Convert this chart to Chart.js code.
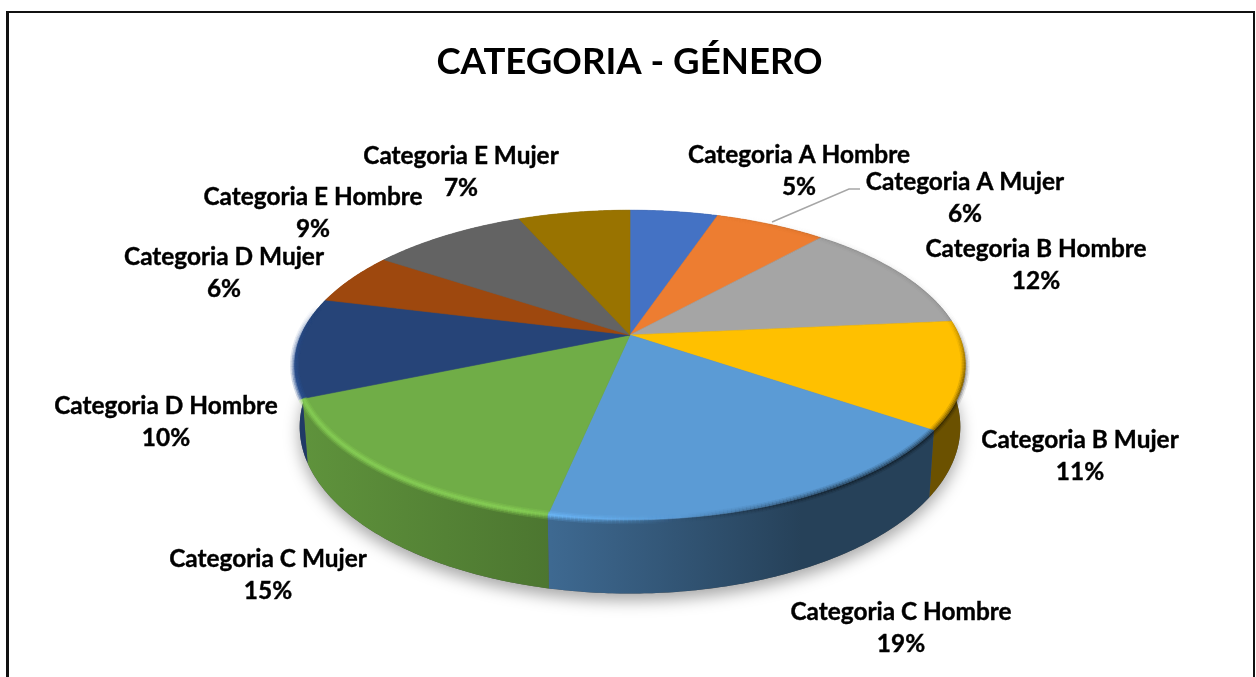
<!DOCTYPE html>
<html>
<head>
<meta charset="utf-8">
<script src="https://cdn.jsdelivr.net/npm/chart.js@4"></script>
<style>
    html, body { margin: 0; background: #fff; overflow: hidden; }
    #wrap { position: relative; width: 1256px; height: 677px; }
    #frame { position: absolute; left: 6px; top: 11px; width: 1244px; height: 700px; border: 2.5px solid #111; border-left-width: 3px; }
    #genderChart { position: absolute; left: 0; top: 0; }
</style>
</head>
<body>
<div id="wrap">
    <canvas id="genderChart" width="1256" height="677"></canvas>
    <div id="frame"></div>
</div>
<script>
const chartTitle = "CATEGORIA - GÉNERO";
const categories = [
    "Categoria A Hombre",
    "Categoria A Mujer",
    "Categoria B Hombre",
    "Categoria B Mujer",
    "Categoria C Hombre",
    "Categoria C Mujer",
    "Categoria D Hombre",
    "Categoria D Mujer",
    "Categoria E Hombre",
    "Categoria E Mujer",
];
// Unrounded shares estimated from the slice edges; the labels show them rounded
const percents = [5.1, 6.45, 11.95, 11.15, 18.6, 15.3, 10.4, 5.5, 9.05, 6.5];
const sliceColors = [
    "#4472C4", "#ED7D31", "#A5A5A5", "#FFC000", "#5B9BD5",
    "#70AD47", "#264478", "#9E480E", "#636363", "#997300",
];

// Label centres, same order as categories
const labelPlaces = [
    [799, 155], [965, 182], [1036, 249], [1080, 440], [901, 612],
    [268, 559], [166, 406], [224, 257], [313, 197], [461, 156],
];

// Perspective of the tilted disc
const view = { cx: 630, cy: 335, rx: 329, ry: 149, k: 0.1935, thick: 59.5 };

function project(theta, depth) {
    const u = Math.sin(theta);
    const v = Math.cos(theta);
    const d = 1 + view.k * v;
    return {
        x: view.cx + (view.rx * u * (1 - depth * 0.015)) / d,
        y: view.cy + (-view.ry * v + depth * view.thick) / d,
    };
}

function traceArc(ctx, from, to, depth) {
    const steps = Math.max(2, Math.ceil(Math.abs(to - from) / 0.01));
    for (let i = 0; i <= steps; i++) {
        const p = project(from + ((to - from) * i) / steps, depth);
        ctx.lineTo(p.x, p.y);
    }
}

function shade(hex, f, alpha = 1) {
    const n = parseInt(hex.slice(1), 16);
    const c = [(n >> 16) & 255, (n >> 8) & 255, n & 255].map((v) => Math.min(255, v * f));
    return `rgba(${c[0]}, ${c[1]}, ${c[2]}, ${alpha})`;
}

// Draws the slices from the angles the pie controller computed
const tiltedPie = {
    id: "tiltedPie",
    beforeDatasetsDraw(chart) {
        const ctx = chart.ctx;
        const arcs = chart.getDatasetMeta(0).data.map((a) => ({
            from: a.startAngle + Math.PI / 2,
            to: a.endAngle + Math.PI / 2,
        }));
        ctx.save();

        // Soft shadow under the disc
        ctx.save();
        ctx.shadowColor = "rgba(0, 0, 0, 0.35)";
        ctx.shadowBlur = 16;
        ctx.shadowOffsetY = 7;
        ctx.fillStyle = "#555";
        ctx.beginPath();
        traceArc(ctx, 0, Math.PI * 2, 1);
        ctx.closePath();
        ctx.fill();
        ctx.restore();

        // Rim
        arcs.forEach((arc, i) => {
            const g = ctx.createLinearGradient(300, 0, 960, 0);
            g.addColorStop(0, shade(sliceColors[i], 0.85));
            g.addColorStop(0.38, shade(sliceColors[i], 0.68));
            g.addColorStop(0.76, shade(sliceColors[i], 0.42));
            g.addColorStop(1, shade(sliceColors[i], 0.42));
            ctx.fillStyle = g;
            ctx.beginPath();
            traceArc(ctx, arc.from, arc.to, 0);
            traceArc(ctx, arc.to, arc.from, 1);
            ctx.closePath();
            ctx.fill();
        });

        // Top faces
        arcs.forEach((arc, i) => {
            ctx.fillStyle = sliceColors[i];
            ctx.strokeStyle = sliceColors[i];
            ctx.lineWidth = 0.6;
            ctx.beginPath();
            ctx.moveTo(view.cx, view.cy);
            traceArc(ctx, arc.from, arc.to, 0);
            ctx.closePath();
            ctx.fill();
            ctx.stroke();
        });

        // Bevel along the outer edge: light on the left, dark on the right
        ctx.lineCap = "butt";
        [[9, 0.3], [6, 0.5], [3, 0.7]].forEach(([width, alpha]) => {
            ctx.lineWidth = width;
            arcs.forEach((arc, i) => {
                for (let t = arc.from; t < arc.to; t += 0.01) {
                    const a = project(t, 0);
                    const b = project(Math.min(t + 0.011, arc.to), 0);
                    const front = Math.min(1, Math.max(0, (0.2 - Math.cos(t)) * 2));
                    const lit = (680 - a.x) / 160;
                    ctx.strokeStyle = lit > 0
                        ? shade(sliceColors[i], 1.22, Math.min(lit, 1) * 0.75 * alpha * front)
                        : shade(sliceColors[i], 0, Math.min(-lit, 1) * 0.3 * alpha * Math.max(front, 0.12));
                    ctx.beginPath();
                    ctx.moveTo(a.x, a.y);
                    ctx.lineTo(b.x, b.y);
                    ctx.stroke();
                }
            });
        });

        ctx.restore();
        return false;
    },
    afterDraw(chart) {
        const ctx = chart.ctx;
        ctx.save();

        // Leader line for Categoria A Mujer
        ctx.strokeStyle = "#a6a6a6";
        ctx.lineWidth = 1.5;
        ctx.beginPath();
        ctx.moveTo(772, 222);
        ctx.lineTo(849, 189);
        ctx.lineTo(860, 189);
        ctx.stroke();

        ctx.fillStyle = "#000";
        ctx.strokeStyle = "#000";
        ctx.lineWidth = 0.4;
        ctx.font = "bold 24.4px Lato";
        ctx.textAlign = "center";
        ctx.textBaseline = "middle";
        categories.forEach((name, i) => {
            const [x, y] = labelPlaces[i];
            const pct = Math.round(percents[i]) + "%";
            ctx.fillText(name, x, y);
            ctx.strokeText(name, x, y);
            ctx.fillText(pct, x, y + 32);
            ctx.strokeText(pct, x, y + 32);
        });
        ctx.restore();
    },
};

new Chart(document.getElementById("genderChart"), {
    type: "pie",
    data: {
        labels: categories,
        datasets: [{ data: percents, backgroundColor: sliceColors, borderWidth: 0 }],
    },
    options: {
        responsive: false,
        animation: false,
        layout: { padding: { left: 3 } },
        plugins: {
            legend: { display: false },
            tooltip: { enabled: false },
            title: {
                display: true,
                text: chartTitle,
                color: "#000",
                font: { family: "Lato", size: 36.6, weight: "bold" },
                padding: { top: 40, bottom: 20 },
            },
        },
    },
    plugins: [tiltedPie],
});
</script>
</body>
</html>
